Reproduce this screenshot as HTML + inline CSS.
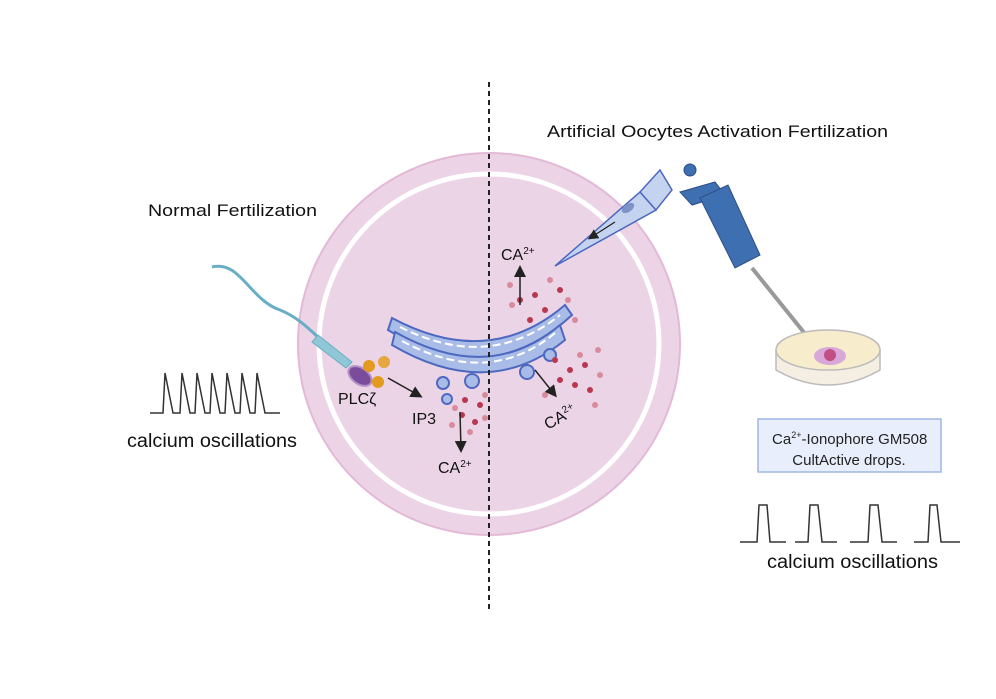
<!DOCTYPE html>
<html><head><meta charset="utf-8"><style>
html,body{margin:0;padding:0;background:#fff;}
svg{display:block;font-family:"Liberation Sans",sans-serif;}
</style></head><body>
<svg width="996" height="699" viewBox="0 0 996 699">
<defs>
<marker id="ar" markerWidth="8" markerHeight="8" refX="6" refY="4" orient="auto"><path d="M0,0 L8,4 L0,8 z" fill="#222"/></marker>
</defs>
<!-- cell -->
<circle cx="489" cy="344" r="191" fill="#edd3e6" stroke="#e2b9d6" stroke-width="2"/>
<circle cx="489" cy="344" r="170" fill="none" stroke="#fff" stroke-width="5"/>
<circle cx="489" cy="344" r="166" fill="#ecd4e7"/>
<!-- ER -->
<g fill="#a9bce8" stroke="#4d68c0" stroke-width="2">
<path d="M392,318 Q489,370 565,305 L572,315 Q489,392 388,330 z"/>
<path d="M395,332 Q489,385 560,325 L565,340 Q489,402 392,345 z"/>
<circle cx="443" cy="383" r="6"/><circle cx="472" cy="381" r="7"/><circle cx="527" cy="372" r="7"/><circle cx="550" cy="355" r="6"/><circle cx="447" cy="399" r="5"/>
</g>
<g stroke="#fff" stroke-width="2" fill="none">
<path d="M400,327 Q489,372 560,315" stroke-dasharray="8,4"/>
<path d="M402,341 Q489,388 555,333" stroke-dasharray="8,4"/>
</g>
<!-- dots -->
<g fill="#b8384f">
<circle cx="520" cy="300" r="3"/><circle cx="535" cy="295" r="3"/><circle cx="545" cy="310" r="3"/><circle cx="560" cy="290" r="3"/><circle cx="530" cy="320" r="3"/><circle cx="555" cy="360" r="3"/><circle cx="570" cy="370" r="3"/><circle cx="585" cy="365" r="3"/><circle cx="575" cy="385" r="3"/><circle cx="560" cy="380" r="3"/><circle cx="590" cy="390" r="3"/><circle cx="465" cy="400" r="3"/><circle cx="480" cy="405" r="3"/><circle cx="462" cy="415" r="3"/><circle cx="475" cy="422" r="3"/>
</g>
<g fill="#d98b9c">
<circle cx="510" cy="285" r="3"/><circle cx="512" cy="305" r="3"/><circle cx="550" cy="280" r="3"/><circle cx="568" cy="300" r="3"/><circle cx="575" cy="320" r="3"/><circle cx="598" cy="350" r="3"/><circle cx="600" cy="375" r="3"/><circle cx="545" cy="395" r="3"/><circle cx="595" cy="405" r="3"/><circle cx="455" cy="408" r="3"/><circle cx="485" cy="395" r="3"/><circle cx="452" cy="425" r="3"/><circle cx="485" cy="418" r="3"/><circle cx="470" cy="432" r="3"/><circle cx="580" cy="355" r="3"/>
</g>
<!-- arrows -->
<g stroke="#222" stroke-width="1.5" fill="none" marker-end="url(#ar)">
<line x1="520" y1="305" x2="520" y2="268"/>
<line x1="535" y1="370" x2="555" y2="395"/>
<line x1="460" y1="412" x2="461" y2="450"/>
<line x1="388" y1="378" x2="420" y2="396"/>
</g>
<!-- sperm -->
<path d="M212,267 C240,260 250,300 280,310 C300,318 310,330 345,362" stroke="#6aaec5" stroke-width="3" fill="none"/>
<path d="M318,335 L352,362 L346,368 L312,342 z" fill="#8fc7d6" stroke="#6aaec5"/>
<ellipse cx="360" cy="376" rx="13" ry="8" transform="rotate(35 360 376)" fill="#7b4c9c" stroke="#b690c8" stroke-width="2"/>
<circle cx="369" cy="366" r="6" fill="#e29a1f"/><circle cx="384" cy="362" r="6" fill="#e6a640"/><circle cx="378" cy="382" r="6" fill="#e29a1f"/>
<!-- dashed line -->
<line x1="489" y1="82" x2="489" y2="610" stroke="#222" stroke-width="2" stroke-dasharray="5,4"/>
<!-- microinjection pipette -->
<polygon points="555,266 640,192 656,210" fill="#c4d3ef" stroke="#4d68c0" stroke-width="1.5"/>
<polygon points="640,192 660,170 672,190 656,210" fill="#c4d3ef" stroke="#4d68c0" stroke-width="1.5"/>
<ellipse cx="628" cy="208" rx="7" ry="4" fill="#7d93c8" transform="rotate(-35 628 208)"/>
<line x1="615" y1="222" x2="590" y2="238" stroke="#222" stroke-width="1.3" marker-end="url(#ar)"/>
<!-- lab pipette -->
<g fill="#3e6fb0" stroke="#2d4e85" stroke-width="1">
<circle cx="690" cy="170" r="6"/>
<polygon points="680,192 715,182 725,195 692,205"/>
<polygon points="700,198 728,185 760,255 735,268"/>
</g>
<line x1="752" y1="268" x2="806" y2="335" stroke="#999" stroke-width="4"/>
<line x1="806" y1="335" x2="826" y2="352" stroke="#c990d0" stroke-width="3"/>
<!-- dish -->
<path d="M776,350 L776,370 Q828,400 880,370 L880,350" fill="#f4efe2" stroke="#bbb" stroke-width="1.5"/>
<ellipse cx="828" cy="350" rx="52" ry="20" fill="#f7eccc" stroke="#bbb" stroke-width="1.5"/>
<ellipse cx="830" cy="356" rx="16" ry="9" fill="#d7a8d8"/><circle cx="830" cy="355" r="6" fill="#c14f85"/>
<!-- box -->
<rect x="758" y="419" width="183" height="53" fill="#e8eefb" stroke="#9fb6e4" stroke-width="1.5"/>
<text x="772" y="444" font-size="15" fill="#222">Ca<tspan font-size="9" dy="-6">2+</tspan><tspan dy="6">-Ionophore GM508</tspan></text>
<text x="849" y="465" font-size="15" text-anchor="middle" fill="#222">CultActive drops.</text>
<!-- waves -->
<path d="M150,413 L163,413 L165,373 L173,413 L180,413 L182,373 L190,413 L195,413 L197,373 L205,413 L210,413 L212,373 L220,413 L225,413 L227,373 L235,413 L240,413 L242,373 L250,413 L255,413 L257,373 L265,413 L280,413" fill="none" stroke="#333" stroke-width="1.5"/>
<path d="M740,542 L757,542 L759,505 L767,505 L770,542 L786,542 M795,542 L808,542 L810,505 L818,505 L822,542 L837,542 M850,542 L868,542 L870,505 L878,505 L882,542 L897,542 M914,542 L928,542 L930,505 L937,505 L941,542 L960,542" fill="none" stroke="#333" stroke-width="1.5"/>
<!-- text -->
<g fill="#111">
<text x="148" y="216" font-size="17" textLength="169" lengthAdjust="spacingAndGlyphs">Normal Fertilization</text>
<text x="547" y="137" font-size="17" textLength="341" lengthAdjust="spacingAndGlyphs">Artificial Oocytes Activation Fertilization</text>
<text x="127" y="447" font-size="19" textLength="170" lengthAdjust="spacingAndGlyphs">calcium oscillations</text>
<text x="767" y="568" font-size="19" textLength="171" lengthAdjust="spacingAndGlyphs">calcium oscillations</text>
<text x="338" y="404" font-size="16">PLCζ</text>
<text x="412" y="424" font-size="16">IP3</text>
<text x="438" y="473" font-size="16">CA<tspan font-size="10" dy="-6">2+</tspan></text>
<text x="501" y="260" font-size="16">CA<tspan font-size="10" dy="-6">2+</tspan></text>
<text x="548" y="430" font-size="16" transform="rotate(-30 548 430)">CA<tspan font-size="10" dy="-6">2+</tspan></text>
</g>
</svg>
</body></html>
